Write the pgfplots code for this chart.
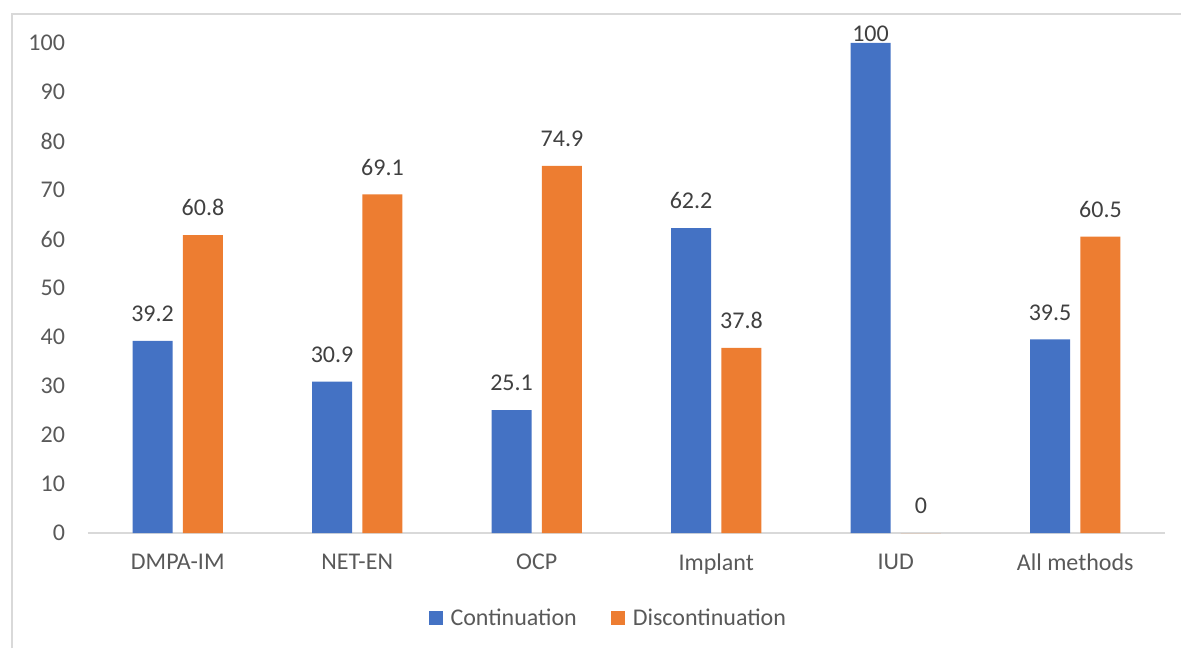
\documentclass[border=0pt]{standalone}
\usepackage{fontspec}
\setmainfont{Carlito}
\usepackage{pgfplots}
\pgfplotsset{compat=1.18}
\definecolor{cblue}{HTML}{4472C4}
\definecolor{corange}{HTML}{ED7D31}
\definecolor{bordergray}{HTML}{D9D9D9}
\definecolor{tickgray}{HTML}{595959}
\definecolor{labgray}{HTML}{404040}
\pgfplotsset{/pgf/number format/assume math mode=true}
\begin{document}
\begin{tikzpicture}[x=1pt,y=1pt]
\path[use as bounding box] (0,0) rectangle (590.5,324);
\draw[color=bordergray,line width=0.75pt] (6,0) -- (6,317) -- (590.5,317);
\begin{axis}[
  at={(44pt,57.5pt)}, anchor=south west,
  scale only axis, width=538.5pt, height=245pt,
  xmin=-0.5, xmax=5.5, ymin=0, ymax=100,
  ybar=5.2pt, bar width=20pt,
  xtick={0,1,2,3,4,5},
  xticklabels={DMPA-IM,NET-EN,OCP,Implant,IUD,All methods},
  ytick={0,10,...,100},
  major tick length=0pt,
  axis x line*=bottom, axis y line*=left,
  y axis line style={draw=none},
  x axis line style={draw=bordergray, line width=0.75pt},
  tick label style={font=\fontsize{12}{14.4}\selectfont, text=tickgray},
  yticklabel style={xshift=-8pt},
  xticklabel style={yshift=-7pt},
  visualization depends on={rawy \as \rawy},
  nodes near coords,
  nodes near coords style={font=\fontsize{12}{14.4}\selectfont, text=labgray, yshift={ifthenelse(\rawy>99,-3,6)*1pt}},
  clip=false,
  legend columns=2,
  legend style={at={(0.484,-0.174)}, anchor=center, draw=none, fill=none,
    font=\fontsize{12}{14.4}\selectfont, text=tickgray,
    /tikz/every even column/.append style={column sep=15pt}},
]
\addplot[fill=cblue, draw=none, legend image code/.code={\fill[cblue] (0pt,-3.5pt) rectangle (7pt,3.5pt); \path (9pt,0pt);}]
  coordinates {(0,39.2) (1,30.9) (2,25.1) (3,62.2) (4,100) (5,39.5)};
\addplot[fill=corange, draw=none, legend image code/.code={\fill[corange] (0pt,-3.5pt) rectangle (7pt,3.5pt); \path (9pt,0pt);}]
  coordinates {(0,60.8) (1,69.1) (2,74.9) (3,37.8) (4,0) (5,60.5)};
\legend{Continuation, Discontinuation}
\end{axis}
\end{tikzpicture}
\end{document}
